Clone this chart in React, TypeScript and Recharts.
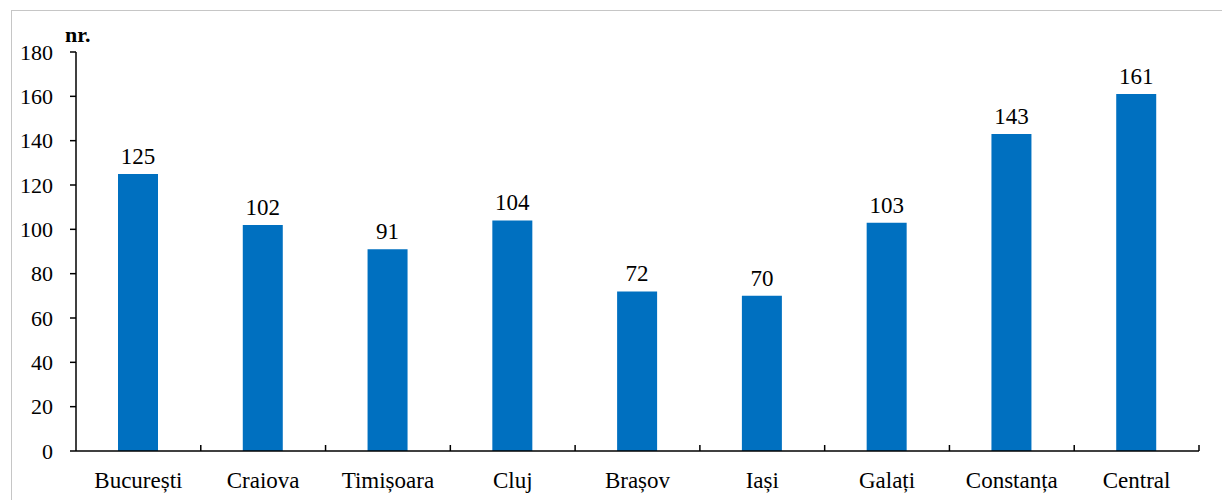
import React from "react";
import { BarChart, Bar, XAxis, YAxis, LabelList } from "recharts";

const categories = ["București", "Craiova", "Timișoara", "Cluj", "Brașov", "Iași", "Galați", "Constanța", "Central"];
const values = [125, 102, 91, 104, 72, 70, 103, 143, 161];
const yTicks = [0, 20, 40, 60, 80, 100, 120, 140, 160, 180];

const data = categories.map((name, i) => ({ name, value: values[i] }));

const FONT = "'Times New Roman', Times, Tinos, 'Liberation Serif', 'Noto Serif', FreeSerif, serif";
const TICK_GAP = 21;

// category label + a small upward separator tick at the right edge of each band
function CategoryTick(props: any) {
    const { x, y, payload } = props;
    const edge = payload.coordinate + (payload.offset || 0);
    const axisY = y - TICK_GAP;
    return (
        <g>
            <line x1={edge} x2={edge} y1={axisY} y2={axisY - 6} stroke="#000" strokeWidth={1.5} />
            <text x={x} y={y} dy="0.71em" textAnchor="middle" fill="#000" fontSize={23} style={{ fontFamily: FONT }}>
                {payload.value}
            </text>
        </g>
    );
}

export default function App() {
    return (
        <div style={{ position: "absolute", left: 0, top: 0, width: 1222, height: 500, background: "#fff", fontFamily: FONT }}>
            <div
                style={{
                    position: "absolute",
                    left: 11,
                    top: 10,
                    width: 1222,
                    height: 500,
                    borderTop: "1.5px solid #c6c6c6",
                    borderLeft: "1.5px solid #c6c6c6",
                }}
            />
            <div style={{ position: "absolute", left: 65, top: 22, fontFamily: FONT, fontWeight: "bold", fontSize: 22 }}>
                nr.
            </div>
            <div style={{ position: "absolute", left: 0, top: 0 }}>
                <BarChart width={1222} height={500} data={data} margin={{ top: 52, right: 23, bottom: 0, left: 0 }}>
                    <XAxis
                        dataKey="name"
                        height={49}
                        axisLine={{ stroke: "#000", strokeWidth: 1.5 }}
                        tickLine={false}
                        tickSize={0}
                        tickMargin={TICK_GAP}
                        interval={0}
                        tick={<CategoryTick />}
                    />
                    <YAxis
                        width={76}
                        domain={[0, 180]}
                        ticks={yTicks}
                        interval={0}
                        axisLine={{ stroke: "#000", strokeWidth: 1.5 }}
                        tickLine={{ stroke: "#000", strokeWidth: 1.5 }}
                        tickSize={6}
                        tickMargin={17}
                        tick={{ fill: "#000", fontSize: 22, style: { fontFamily: FONT } }}
                    />
                    <Bar dataKey="value" fill="#0070C0" barSize={40} isAnimationActive={false}>
                        <LabelList dataKey="value" position="top" offset={10} fill="#000" fontSize={23} style={{ fontFamily: FONT }} />
                    </Bar>
                </BarChart>
            </div>
        </div>
    );
}
